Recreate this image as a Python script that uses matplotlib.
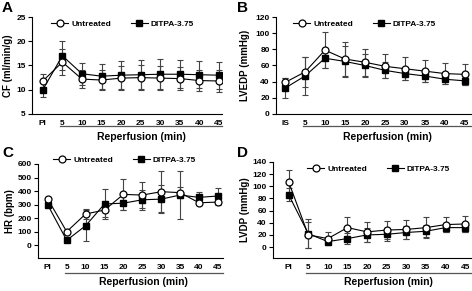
import matplotlib.pyplot as plt
import matplotlib.transforms as mtransforms

# x categories (PI / IS = pre-ischemia / ischemia, then reperfusion minutes)
labels_pi = ['PI', '5', '10', '15', '20', '25', '30', '35', '40', '45']
labels_is = ['IS', '5', '10', '15', '20', '25', '30', '35', '40', '45']

# A: coronary flow
cf_untr = [11.8, 15.7, 12.2, 12.0, 12.4, 12.5, 12.4, 12.3, 11.9, 11.8]
cf_untr_err = [1.4, 2.6, 1.8, 2.0, 2.4, 2.5, 2.4, 2.3, 2.2, 2.2]
cf_dit = [10.0, 17.0, 13.3, 12.8, 13.0, 13.1, 13.2, 13.2, 13.1, 13.0]
cf_dit_err = [1.5, 3.0, 2.3, 2.6, 2.9, 3.0, 3.1, 2.9, 2.8, 2.8]

# B: LVEDP
lvedp_untr = [39, 52, 79, 68, 64, 59, 56, 53, 50, 49]
lvedp_untr_err = [6, 18, 22, 21, 17, 15, 14, 14, 13, 13]
lvedp_dit = [32, 47, 69, 65, 60, 54, 50, 47, 43, 41]
lvedp_dit_err = [12, 23, 12, 19, 14, 10, 8, 7, 6, 5]

# C: heart rate
hr_untr = [340, 99, 230, 259, 375, 370, 395, 388, 313, 318]
hr_untr_err = [15, 15, 37, 49, 114, 99, 153, 42, 20, 20]
hr_dit = [296, 35, 143, 304, 310, 335, 340, 370, 353, 363]
hr_dit_err = [15, 10, 113, 108, 50, 75, 105, 180, 37, 57]

# D: LVDP
lvdp_untr = [107, 20, 14, 32, 25, 28, 29, 32, 37, 38]
lvdp_untr_err = [20, 21, 11, 17, 16, 15, 15, 17, 13, 13]
lvdp_dit = [86, 22, 9, 14, 20, 21, 24, 26, 32, 32]
lvdp_dit_err = [11, 24, 3, 9, 11, 11, 11, 10, 8, 8]

W, H = 472, 291
FONT = 'Liberation Sans'

fig = plt.figure(figsize=(W / 100, H / 100), dpi=100)


def make_axes(left, top, right, bottom):
    return fig.add_axes([left / W, 1 - bottom / H, (right - left) / W, (bottom - top) / H])


def panel(box, letter, letter_xy, labels, untr, untr_err, dit, dit_err,
          ylim, yticks, xlim, ylabel, ylabel_x, legend_xy, line_off, text_off):
    ax = make_axes(*box)
    x = list(range(len(labels)))
    h_px = box[3] - box[1]

    ax.errorbar(x, dit, yerr=dit_err, fmt='none', ecolor='#444444',
                elinewidth=0.8, capsize=2.2, capthick=0.8, zorder=2)
    ax.errorbar(x, untr, yerr=untr_err, fmt='none', ecolor='#444444',
                elinewidth=0.8, capsize=2.2, capthick=0.8, zorder=2)
    l2, = ax.plot(x, dit, color='black', lw=0.8, marker='s', ms=5,
                  mfc='black', mec='black', zorder=3, label='DITPA-3.75')
    l1, = ax.plot(x, untr, color='black', lw=0.8, marker='o', ms=5,
                  mfc='white', mec='black', mew=0.9, zorder=4, label='Untreated')

    ax.set_xlim(*xlim)
    ax.set_ylim(*ylim)
    ax.set_yticks(yticks)
    ax.set_xticks(x)
    ax.set_xticklabels(labels)
    ax.tick_params(axis='x', length=0, pad=4)
    ax.tick_params(axis='y', length=3, width=0.8, pad=1.5)
    for t in ax.get_xticklabels() + ax.get_yticklabels():
        t.set_fontfamily(FONT)
        t.set_fontweight('bold')
        t.set_fontsize(6)
    for s in ['top', 'right']:
        ax.spines[s].set_visible(False)
    for s in ['left', 'bottom']:
        ax.spines[s].set_linewidth(0.8)

    ax.set_ylabel(ylabel, fontfamily=FONT, fontweight='bold', fontsize=7)
    ax.yaxis.set_label_coords((ylabel_x - box[0]) / (box[2] - box[0]), 0.5)

    # reperfusion bar under the x tick labels
    trans = mtransforms.blended_transform_factory(ax.transData, ax.transAxes)
    ax.plot([0.9, xlim[1]], [-line_off / h_px] * 2, transform=trans,
            color='#555555', lw=0.9, clip_on=False)
    ax.text((0.9 + xlim[1]) / 2, -text_off / h_px, 'Reperfusion (min)',
            transform=trans, ha='center', va='center', fontfamily=FONT,
            fontweight='bold', fontsize=7.5)

    ax.legend(handles=[l1, l2], ncol=2, loc='center left',
              bbox_to_anchor=(legend_xy[0] / W, 1 - legend_xy[1] / H),
              bbox_transform=fig.transFigure, frameon=False, borderpad=0,
              handlelength=2.0, handletextpad=0.4, columnspacing=2.4,
              prop={'family': FONT, 'weight': 'bold', 'size': 6})

    fig.text(letter_xy[0] / W, 1 - letter_xy[1] / H, letter, ha='left', va='top',
             fontfamily=FONT, fontweight='bold', fontsize=11)
    return ax


panel((32, 17, 222, 114), 'A', (2, 1), labels_pi, cf_untr, cf_untr_err, cf_dit, cf_dit_err,
      (5, 25), [5, 10, 15, 20, 25], (-0.55, 9.15), 'CF (ml/min/g)', 13, (47, 24), 12, 23)
panel((276, 17, 471, 114), 'B', (237, 1), labels_is, lvedp_untr, lvedp_untr_err,
      lvedp_dit, lvedp_dit_err, (0, 120), [0, 20, 40, 60, 80, 100, 120],
      (-0.45, 9.3), 'LVEDP (mmHg)', 250, (289, 24), 12, 23)
panel((38, 164, 223, 258), 'C', (2, 146), labels_pi, hr_untr, hr_untr_err, hr_dit, hr_dit_err,
      (-96, 600), [0, 100, 200, 300, 400, 500, 600], (-0.52, 9.27), 'HR (bpm)', 15,
      (49, 160), 15, 24)
panel((273, 162, 471, 258), 'D', (237, 146), labels_pi, lvdp_untr, lvdp_untr_err,
      lvdp_dit, lvdp_dit_err, (-18, 140), [0, 20, 40, 60, 80, 100, 120, 140],
      (-0.8, 9.3), 'LVDP (mmHg)', 250, (303, 169), 15, 24)

fig.savefig('out.png', dpi=100)
